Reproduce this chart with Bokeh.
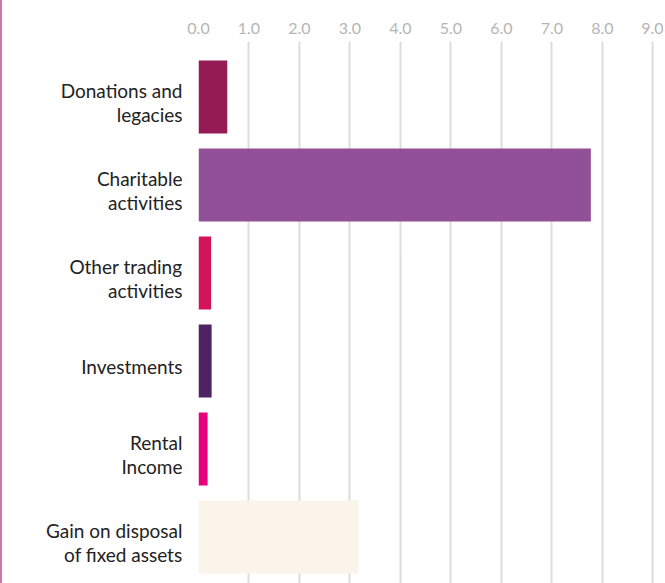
from bokeh.plotting import figure
from bokeh.models import Range1d, FixedTicker, ColumnDataSource
from bokeh.embed import file_html
from bokeh.resources import INLINE

categories = ["Donations and\nlegacies", "Charitable\nactivities", "Other trading\nactivities",
              "Investments", "Rental\nIncome", "Gain on disposal\nof fixed assets"]
values = [0.57, 7.77, 0.25, 0.26, 0.18, 3.17]
colors = ["#951b55", "#915097", "#d4145a", "#4f2264", "#e6007e", "#fbf4ea"]
x_ticks = [0, 1, 2, 3, 4, 5, 6, 7, 8, 9]
x_tick_labels = ["0.0", "1.0", "2.0", "3.0", "4.0", "5.0", "6.0", "7.0", "8.0", "9.0"]

FONT = "Lato"
pos = list(range(len(categories)))
src = ColumnDataSource(dict(y=pos, v=values, c=colors))

p = figure(width=663, height=583, output_backend="svg", toolbar_location=None,
           x_range=Range1d(0, 9.09), y_range=Range1d(len(categories) - 1 + 0.528, -0.631),
           x_axis_location="above", min_border_left=196, min_border_right=8,
           min_border_top=41, min_border_bottom=0)
p.outline_line_color = None
p.hbar(y="y", right="v", left=0, height=0.83, fill_color="c", line_color=None, source=src)

xa = p.xaxis[0]
xa.ticker = FixedTicker(ticks=x_ticks)
xa.major_label_overrides = {t: l for t, l in zip(x_ticks, x_tick_labels)}
xa.axis_line_color = None
xa.major_tick_line_color = None
xa.minor_tick_line_color = None
xa.major_label_text_color = "#b5b5b5"
xa.major_label_text_font = FONT
xa.major_label_text_font_size = "16px"
xa.major_label_standoff = 2

label_ticks = [i + 0.06 for i in pos]
ya = p.yaxis[0]
ya.ticker = FixedTicker(ticks=label_ticks)
ya.major_label_overrides = {t: c for t, c in zip(label_ticks, categories)}
ya.axis_line_color = None
ya.major_tick_line_color = None
ya.minor_tick_line_color = None
ya.major_label_text_color = "#222222"
ya.major_label_text_font = FONT
ya.major_label_text_font_size = "19px"
ya.major_label_text_line_height = 1.06
ya.major_label_standoff = 10

p.ygrid.grid_line_color = None
p.xgrid.grid_line_color = "#dcdcdc"
p.xgrid.grid_line_width = 2
p.xgrid.ticker = FixedTicker(ticks=x_ticks)
p.styles = {"border-left": "2px solid #d077a6"}

open("out.html", "w").write(file_html(p, INLINE))
